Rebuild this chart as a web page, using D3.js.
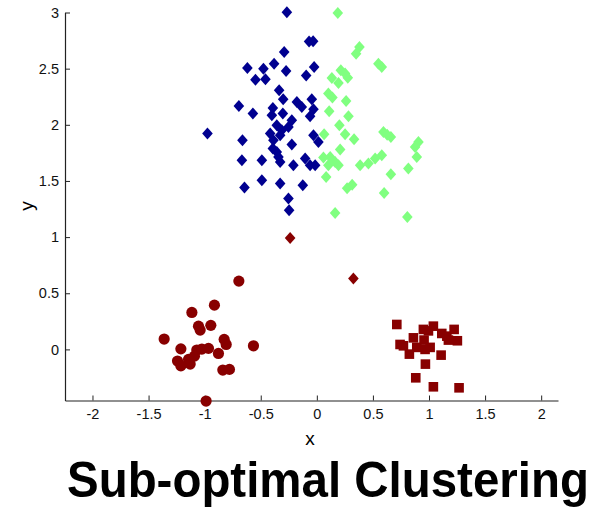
<!DOCTYPE html>
<html>
<head>
<meta charset="utf-8">
<script src="https://cdn.jsdelivr.net/npm/d3@7"></script>
<style>
  body { margin: 0; background: #fff; }
  svg { font-family: "Liberation Sans", Arial, sans-serif; }
</style>
</head>
<body>
<svg id="chart" width="597" height="509"></svg>
<script>
// cluster 1 (navy diamonds)
const blueX = [-0.267,-0.069,-0.033,-0.291,-0.619,-0.476,-0.381,-0.274,-0.024,-0.095,-0.547,-0.458,-0.336,-0.3,-0.695,-0.57,-0.392,-0.401,-0.303,-0.178,-0.134,-0.045,-0.03,-0.06,-0.975,-0.663,-0.357,-0.312,-0.416,-0.387,-0.327,-0.223,-0.253,-0.223,-0.392,-0.357,-0.03,0.014,-0.668,-0.49,-0.342,-0.327,-0.209,-0.104,-0.06,-0.015,-0.645,-0.49,-0.327,-0.125,-0.253,-0.247];
const blueY = [3.003,2.742,2.743,2.648,2.505,2.5,2.544,2.479,2.514,2.44,2.402,2.405,2.307,2.227,2.167,2.1,2.15,2.085,2.1,2.203,2.158,2.227,2.138,2.076,1.922,1.862,1.996,1.951,1.922,1.862,1.907,2.04,1.98,1.824,1.788,1.758,1.907,1.847,1.684,1.684,1.714,1.669,1.64,1.699,1.64,1.64,1.441,1.506,1.477,1.462,1.343,1.239];

// cluster 2 (light green diamonds)
const greenX = [0.187,0.38,0.35,0.549,0.579,0.214,0.252,0.276,0.134,0.193,0.103,0.139,0.261,0.11,0.282,0.201,0.065,0.252,0.332,0.594,0.627,0.66,0.906,0.876,0.208,0.059,0.119,0.163,0.193,0.103,0.386,0.46,0.52,0.579,0.891,0.816,0.66,0.083,0.27,0.315,0.6,0.163,0.807];
const greenY = [2.995,2.692,2.633,2.544,2.514,2.485,2.456,2.42,2.416,2.372,2.278,2.242,2.212,2.12,2.076,1.996,1.915,1.915,1.871,1.936,1.911,1.891,1.847,1.802,1.779,1.708,1.714,1.669,1.64,1.64,1.64,1.655,1.699,1.729,1.714,1.61,1.56,1.536,1.435,1.466,1.393,1.215,1.18];

// cluster 3 (dark red diamonds, stranded points)
const redDiamondX = [-0.238, 0.326];
const redDiamondY = [0.993, 0.632];

// dark red circles
const circleX = [-0.695,-0.913,-1.114,-1.055,-1.04,-0.945,-1.361,-1.212,-0.826,-0.808,-0.565,-1.07,-1.025,-0.966,-1.091,-1.144,-1.129,-1.242,-1.212,-0.877,-0.838,-0.779,-0.987];
const circleY = [0.608,0.394,0.329,0.207,0.172,0.214,0.092,0.005,0.089,0.044,0.032,-0.006,0.003,0.009,-0.06,-0.089,-0.131,-0.104,-0.146,-0.036,-0.184,-0.178,-0.46];

// dark red squares
const squareX = [0.713,0.95,0.995,1.039,1.114,1.159,1.224,1.173,1.253,0.861,0.956,0.742,0.772,0.891,0.965,1.01,0.825,1.108,0.968,0.882,1.039,1.268];
const squareY = [0.222,0.178,0.165,0.207,0.142,0.118,0.178,0.083,0.077,0.103,0.083,0.044,0.032,0.018,0,0.018,-0.042,-0.051,-0.131,-0.253,-0.333,-0.342];

const xTicks = [-2, -1.5, -1, -0.5, 0, 0.5, 1, 1.5, 2];
const yTicks = [0, 0.5, 1, 1.5, 2, 2.5, 3];

const navy = "#000090", lightGreen = "#80ff80", darkRed = "#880000";

const svg = d3.select("#chart");
const x = d3.scaleLinear().domain([-2.245, 2.15]).range([65, 558]);
const y = d3.scaleLinear().domain([-0.455, 3.0]).range([400.5, 12.5]);

// axes: left and bottom only, ticks pointing inward
const xAxis = svg.append("g")
  .attr("transform", `translate(0,${y.range()[0]})`)
  .call(d3.axisBottom(x).tickValues(xTicks).tickFormat(d => String(d))
    .tickSizeInner(-5).tickSizeOuter(0).tickPadding(8));
const yAxis = svg.append("g")
  .attr("transform", `translate(${x.range()[0]},0)`)
  .call(d3.axisLeft(y).tickValues(yTicks).tickFormat(d => String(d))
    .tickSizeInner(-5).tickSizeOuter(0).tickPadding(6));

[xAxis, yAxis].forEach(g => {
  g.select(".domain").attr("stroke", "#222").attr("stroke-width", 1.2);
  g.selectAll(".tick line").attr("stroke", "#222");
  g.selectAll(".tick text").attr("fill", "#111").style("font-size", "14.5px")
    .style("font-family", "'Liberation Sans', Arial, sans-serif");
});

svg.append("text").attr("x", 310).attr("y", 445).attr("text-anchor", "middle")
  .style("font-size", "19px").text("x");
svg.append("text").attr("transform", "translate(33,206) rotate(-90)")
  .attr("text-anchor", "middle").style("font-size", "19px").text("y");

function diamond(cx, cy) {
  const w = 5.3, h = 6;
  return `M${cx},${cy - h}L${cx + w},${cy}L${cx},${cy + h}L${cx - w},${cy}Z`;
}

svg.append("g").selectAll("path").data(d3.range(blueX.length)).join("path")
  .attr("d", i => diamond(x(blueX[i]), y(blueY[i])))
  .attr("fill", navy);

svg.append("g").selectAll("path").data(d3.range(greenX.length)).join("path")
  .attr("d", i => diamond(x(greenX[i]), y(greenY[i])))
  .attr("fill", lightGreen);

svg.append("g").selectAll("path").data(d3.range(redDiamondX.length)).join("path")
  .attr("d", i => diamond(x(redDiamondX[i]), y(redDiamondY[i])))
  .attr("fill", darkRed);

svg.append("g").selectAll("circle").data(d3.range(circleX.length)).join("circle")
  .attr("cx", i => x(circleX[i])).attr("cy", i => y(circleY[i]))
  .attr("r", 5.6).attr("fill", darkRed);

const sq = 9.6;
svg.append("g").selectAll("rect").data(d3.range(squareX.length)).join("rect")
  .attr("x", i => x(squareX[i]) - sq / 2).attr("y", i => y(squareY[i]) - sq / 2)
  .attr("width", sq).attr("height", sq).attr("fill", darkRed);

// title: measured, then squeezed horizontally to the reference width
const title = svg.append("text")
  .style("font-size", "50px").style("font-weight", "bold")
  .style("font-family", "'Liberation Sans', Arial, sans-serif")
  .text("Sub-optimal Clustering");
const tw = title.node().getComputedTextLength();
title.attr("transform", `translate(67,497) scale(${522 / tw},1)`);
</script>
</body>
</html>
